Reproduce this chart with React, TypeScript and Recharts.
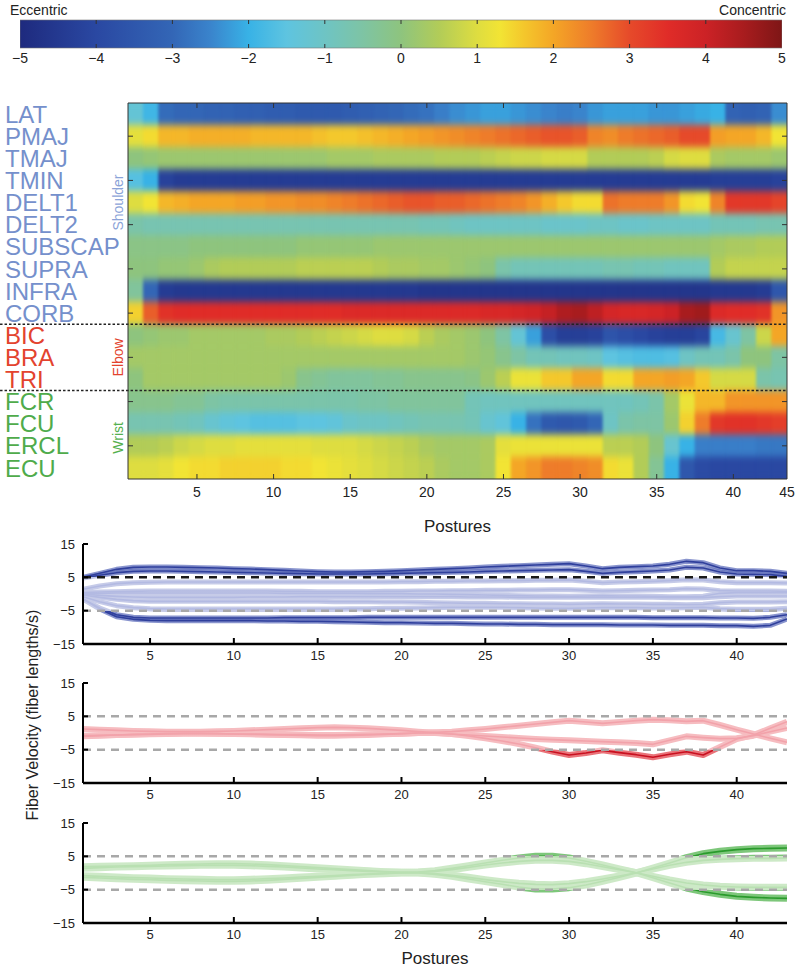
import React from 'react';
import { BarChart, Bar, Cell, XAxis, YAxis, ComposedChart, ReferenceLine, LineChart, Line } from 'recharts';

const FONT = '"Liberation Sans", Arial, Helvetica, sans-serif';

// ---------- categories ----------
const POSTURES = Array.from({ length: 43 }, (_, i) => i + 1);
const MUSCLES = ['LAT', 'PMAJ', 'TMAJ', 'TMIN', 'DELT1', 'DELT2', 'SUBSCAP', 'SUPRA', 'INFRA', 'CORB', 'BIC', 'BRA', 'TRI', 'FCR', 'FCU', 'ERCL', 'ECU'];
const GROUP_OF = [0, 0, 0, 0, 0, 0, 0, 0, 0, 0, 1, 1, 1, 2, 2, 2, 2];
const LABEL_COLORS = ['#7590cc', '#e3432e', '#4fab4b'];
const GROUP_LABELS = [
  { row: 4, text: 'Shoulder', color: '#8ba3d8', shift: 0 },
  { row: 11, text: 'Elbow', color: '#e3432e', shift: 0 },
  { row: 15, text: 'Wrist', color: '#55b04f', shift: 8 },
];
const CB_TICKS = [-5, -4, -3, -2, -1, 0, 1, 2, 3, 4, 5];
const HM_XTICKS = [5, 10, 15, 20, 25, 30, 35, 40, 43.5];
const HM_TOPTICKS = [5, 10, 15, 20, 25, 30, 35, 40];
const HM_ROWTICKS = MUSCLES.map((_, i) => i + 0.5);
const HM_MARKTICKS = [1.5, 3.5, 5.5, 7.5, 9.5, 11.5, 13.5, 15.5];
const VEL_XTICKS = [5, 10, 15, 20, 25, 30, 35, 40];
const VEL_YTICKS = [-15, -5, 5, 15];

// ---------- colormap (value -> colour) ----------
const CMAP: [number, string][] = [
  [-5, '#1e2a7e'], [-4, '#2a48a2'], [-3, '#3366b6'], [-2.5, '#3a84cc'], [-2, '#38b2e6'],
  [-1.5, '#5ec4e0'], [-1, '#6ec4c4'], [-0.5, '#7ec4a4'], [0, '#8ec47e'], [0.5, '#b2cc58'],
  [1, '#dedd40'], [1.3, '#f2e434'], [1.6, '#f4c82c'], [2, '#f4a626'], [2.5, '#ee7c2a'],
  [3, '#e64a2a'], [3.5, '#e02c28'], [4, '#cc2226'], [4.5, '#a81c1e'], [5, '#7e1616'],
];

// ---------- heatmap values (rows x 43 postures) ----------
const HM_LAT = [-1.3, -1.9, -2.9, -3.0, -3.0, -3.1, -3.1, -3.2, -3.2, -3.3, -3.3, -3.4, -3.4, -3.4, -3.3, -3.2, -3.1, -3.0, -2.9, -2.8, -2.6, -2.4, -2.3, -2.2, -2.2, -2.3, -2.4, -2.5, -2.6, -2.5, -2.3, -2.2, -2.2, -2.2, -2.3, -2.3, -2.2, -2.1, -2.0, -3.1, -3.2, -3.1, -2.4];
const HM_PMAJ = [1.1, 1.4, 1.8, 1.8, 1.9, 1.9, 1.9, 1.9, 1.8, 1.8, 1.8, 1.8, 1.7, 1.6, 1.6, 1.7, 1.8, 1.9, 2.0, 2.1, 2.2, 2.3, 2.4, 2.5, 2.6, 2.7, 2.8, 2.9, 2.9, 2.8, 2.4, 2.3, 2.5, 2.6, 2.7, 2.8, 3.0, 3.0, 2.1, 2.0, 2.0, 1.8, 1.3];
const HM_TMAJ = [0.0, 0.1, 0.2, 0.2, 0.2, 0.2, 0.2, 0.2, 0.2, 0.2, 0.2, 0.2, 0.2, 0.3, 0.3, 0.3, 0.4, 0.4, 0.4, 0.4, 0.5, 0.5, 0.5, 0.6, 0.7, 0.8, 0.8, 0.9, 0.9, 0.9, 0.5, 0.5, 0.5, 0.5, 0.6, 0.9, 1.0, 1.0, 0.4, 0.3, 0.3, 0.3, 0.2];
const HM_TMIN = [-1.6, -2.0, -4.2, -4.4, -4.4, -4.4, -4.4, -4.4, -4.4, -4.4, -4.4, -4.4, -4.4, -4.4, -4.4, -4.4, -4.4, -4.4, -4.4, -4.4, -4.4, -4.4, -4.4, -4.4, -4.4, -4.4, -4.4, -4.4, -4.4, -4.4, -4.4, -4.4, -4.4, -4.4, -4.4, -4.4, -4.4, -4.4, -4.3, -4.3, -4.3, -4.3, -4.2];
const HM_DELT1 = [1.0, 1.3, 1.8, 1.9, 2.0, 2.0, 2.0, 2.1, 2.1, 2.2, 2.2, 2.3, 2.3, 2.4, 2.5, 2.6, 2.7, 2.8, 2.9, 2.9, 2.8, 2.8, 2.7, 2.6, 2.5, 2.4, 2.2, 1.9, 1.6, 1.4, 1.4, 2.6, 2.5, 2.5, 2.5, 2.2, 1.4, 1.3, 2.4, 3.3, 3.3, 3.3, 3.1];
const HM_DELT2 = [-0.6, -0.7, -0.7, -0.7, -0.7, -0.7, -0.7, -0.7, -0.7, -0.7, -0.7, -0.7, -0.7, -0.7, -0.7, -0.7, -0.7, -0.7, -0.7, -0.8, -0.8, -0.9, -1.0, -1.0, -1.0, -1.0, -1.0, -1.1, -1.1, -1.1, -1.0, -1.0, -1.1, -1.1, -1.0, -1.0, -1.0, -1.0, -0.8, -0.8, -0.8, -0.7, -0.7];
const HM_SUBSCAP = [-0.1, -0.1, -0.1, -0.1, 0.0, 0.0, 0.0, 0.0, 0.0, 0.0, 0.0, 0.1, 0.1, 0.1, 0.1, 0.1, 0.2, 0.2, 0.2, 0.2, 0.2, 0.2, 0.2, 0.2, 0.2, 0.2, 0.2, 0.2, 0.2, 0.2, 0.2, 0.2, 0.2, 0.2, 0.2, 0.2, 0.2, 0.2, 0.3, 0.4, 0.4, 0.5, 0.5];
const HM_SUPRA = [0.0, 0.0, 0.1, 0.1, 0.2, 0.4, 0.5, 0.5, 0.5, 0.5, 0.5, 0.6, 0.6, 0.6, 0.6, 0.6, 0.5, 0.4, 0.4, 0.3, 0.3, 0.2, 0.1, 0.0, -0.6, -0.8, -0.8, -0.8, -0.8, -0.8, -0.8, -0.7, -0.7, -0.8, -0.8, -0.9, -0.9, -0.9, 0.5, 0.7, 0.7, 0.7, 0.7];
const HM_INFRA = [-0.4, -3.0, -4.4, -4.5, -4.5, -4.5, -4.5, -4.5, -4.5, -4.5, -4.5, -4.5, -4.5, -4.5, -4.5, -4.5, -4.5, -4.5, -4.5, -4.6, -4.6, -4.6, -4.6, -4.6, -4.6, -4.6, -4.6, -4.6, -4.6, -4.6, -4.6, -4.6, -4.6, -4.6, -4.6, -4.6, -4.6, -4.6, -4.5, -4.5, -4.5, -4.4, -3.5];
const HM_CORB = [1.5, 2.8, 3.4, 3.5, 3.5, 3.5, 3.5, 3.5, 3.5, 3.5, 3.5, 3.5, 3.5, 3.5, 3.6, 3.6, 3.6, 3.6, 3.6, 3.6, 3.6, 3.6, 3.6, 3.7, 3.7, 3.8, 3.9, 4.1, 4.4, 4.5, 4.2, 3.8, 3.7, 3.7, 3.8, 4.0, 4.5, 4.6, 3.6, 3.5, 3.5, 3.4, 2.2];
const HM_BIC = [0.0, 0.1, 0.2, 0.2, 0.3, 0.3, 0.3, 0.3, 0.3, 0.4, 0.4, 0.5, 0.6, 0.7, 0.8, 0.9, 1.0, 1.0, 0.9, 0.6, 0.4, 0.3, 0.2, 0.0, -0.5, -1.3, -2.2, -3.8, -4.3, -4.3, -4.2, -3.6, -3.8, -4.0, -4.2, -4.3, -4.3, -4.1, -1.8, -1.2, -0.5, 0.8, 2.0];
const HM_BRA = [0.3, 0.3, 0.3, 0.3, 0.3, 0.3, 0.3, 0.3, 0.3, 0.3, 0.3, 0.3, 0.3, 0.3, 0.3, 0.3, 0.3, 0.3, 0.3, 0.3, 0.3, 0.3, 0.2, 0.1, -0.2, -0.5, -0.8, -0.8, -0.9, -0.9, -1.0, -1.5, -1.6, -1.7, -1.7, -1.6, -1.0, -0.8, -0.8, -0.6, 0.0, 0.0, -0.5];
const HM_TRI = [0.0, 0.3, 0.3, 0.3, 0.3, 0.3, 0.3, 0.3, 0.3, 0.3, 0.2, -0.2, -0.3, -0.4, -0.4, -0.4, -0.3, -0.3, -0.2, -0.2, -0.2, -0.2, -0.1, 0.2, 0.6, 1.2, 1.2, 1.6, 1.6, 2.0, 2.0, 1.4, 1.4, 2.0, 2.0, 2.1, 2.0, 1.6, 0.9, 0.9, 0.9, -0.6, -0.7];
const HM_FCR = [-0.2, -0.2, -0.2, -0.3, -0.3, -0.5, -0.6, -0.6, -0.6, -0.6, -0.6, -0.6, -0.6, -0.6, -0.6, -0.5, -0.5, -0.4, -0.4, -0.4, -0.4, -0.4, -0.8, -0.9, -0.9, -0.9, -0.9, -0.9, -0.9, -0.9, -0.9, -0.9, -0.9, -0.8, -0.6, 0.3, 1.2, 1.8, 1.8, 2.2, 2.2, 2.2, 2.2];
const HM_FCU = [-0.7, -0.7, -0.7, -0.8, -0.9, -1.2, -1.4, -1.5, -1.6, -1.6, -1.6, -1.5, -1.5, -1.4, -1.1, -1.0, -1.0, -0.9, -0.8, -0.7, -0.7, -0.7, -0.8, -1.2, -1.4, -2.0, -2.8, -3.4, -3.5, -3.4, -3.0, -1.0, -0.6, -0.5, -0.5, 0.2, 1.5, 2.5, 3.3, 3.4, 3.4, 3.3, 3.2];
const HM_ERCL = [0.5, 0.5, 0.6, 0.8, 0.9, 1.0, 1.0, 1.1, 1.1, 1.1, 1.1, 1.1, 1.0, 1.0, 1.0, 0.9, 0.8, 0.7, 0.6, 0.4, 0.3, 0.3, 0.3, 0.4, 1.1, 1.2, 1.2, 1.2, 1.2, 1.2, 1.2, 0.6, 0.6, 0.5, 0.0, -1.2, -2.0, -2.6, -2.6, -2.6, -2.6, -2.7, -2.7];
const HM_ECU = [1.0, 1.0, 1.1, 1.3, 1.4, 1.4, 1.5, 1.5, 1.5, 1.5, 1.4, 1.4, 1.3, 1.2, 1.1, 1.0, 0.9, 0.8, 0.7, 0.6, 0.4, 0.3, 0.3, 0.4, 1.3, 2.0, 2.2, 2.5, 2.5, 2.4, 2.3, 1.4, 1.2, 0.5, -0.3, -2.0, -3.5, -3.9, -4.0, -4.0, -4.0, -4.0, -4.0];
const HEAT = [HM_LAT, HM_PMAJ, HM_TMAJ, HM_TMIN, HM_DELT1, HM_DELT2, HM_SUBSCAP, HM_SUPRA, HM_INFRA, HM_CORB, HM_BIC, HM_BRA, HM_TRI, HM_FCR, HM_FCU, HM_ERCL, HM_ECU];

// ---------- fiber velocity (fiber lengths/s), 43 postures ----------
const V_CORB = [5.0, 6.2, 7.4, 8.0, 8.1, 8.1, 8.0, 7.9, 7.8, 7.6, 7.5, 7.3, 7.1, 6.9, 6.7, 6.6, 6.6, 6.7, 6.8, 7.0, 7.2, 7.4, 7.6, 7.8, 8.1, 8.3, 8.5, 8.7, 8.9, 9.1, 8.4, 7.6, 8.0, 8.2, 8.4, 8.9, 9.8, 9.4, 7.8, 7.0, 7.0, 6.8, 6.2];
const V_DELT1 = [4.8, 5.6, 6.4, 6.8, 6.9, 6.9, 6.8, 6.7, 6.6, 6.5, 6.4, 6.3, 6.2, 6.1, 6.0, 6.0, 6.0, 6.0, 6.1, 6.2, 6.3, 6.4, 6.5, 6.6, 6.8, 6.9, 7.0, 7.1, 7.2, 7.3, 6.8, 6.2, 6.5, 6.7, 6.9, 7.2, 8.0, 7.8, 6.6, 6.0, 5.9, 5.8, 5.3];
const V_PMAJ = [1.4, 2.4, 3.1, 3.4, 3.5, 3.6, 3.6, 3.6, 3.6, 3.6, 3.6, 3.6, 3.6, 3.6, 3.6, 3.6, 3.6, 3.6, 3.6, 3.7, 3.7, 3.8, 3.8, 3.9, 3.9, 4.0, 4.0, 4.1, 4.1, 4.2, 3.8, 3.4, 3.6, 3.7, 3.8, 4.0, 4.3, 4.2, 3.7, 3.4, 3.4, 3.4, 3.3];
const V_TMAJ = [0.4, 0.6, 0.7, 0.8, 0.9, 0.9, 0.9, 0.9, 0.9, 0.9, 0.9, 0.9, 0.8, 0.8, 0.7, 0.7, 0.7, 0.7, 0.8, 0.8, 0.9, 0.9, 1.0, 1.0, 1.1, 1.1, 1.2, 1.2, 1.3, 1.3, 1.1, 0.9, 1.0, 1.1, 1.2, 1.3, 1.6, 1.5, 1.0, 0.9, 0.9, 0.9, 0.8];
const V_SUPRA = [0.2, 0.2, 0.3, 0.3, 0.3, 0.3, 0.3, 0.3, 0.3, 0.3, 0.3, 0.3, 0.2, 0.2, 0.2, 0.2, 0.2, 0.1, 0.1, 0.1, 0.0, 0.0, -0.1, -0.2, -0.3, -0.4, -0.5, -0.6, -0.6, -0.7, -0.6, -0.5, -0.6, -0.6, -0.7, -0.8, -0.8, -0.7, 0.2, 0.4, 0.4, 0.4, 0.4];
const V_SUBSCAP = [0.0, -0.4, -0.7, -0.9, -1.0, -1.0, -1.0, -1.0, -1.0, -1.0, -0.9, -0.9, -0.9, -0.8, -0.8, -0.8, -0.8, -0.8, -0.8, -0.8, -0.8, -0.8, -0.8, -0.9, -0.9, -0.9, -1.0, -1.0, -1.0, -1.0, -1.0, -1.0, -1.0, -1.0, -1.0, -1.1, -1.1, -1.1, -0.8, -0.6, -0.6, -0.6, -0.6];
const V_DELT2 = [-0.3, -1.0, -1.6, -2.0, -2.2, -2.2, -2.2, -2.2, -2.2, -2.2, -2.2, -2.2, -2.2, -2.2, -2.2, -2.3, -2.3, -2.3, -2.4, -2.4, -2.5, -2.6, -2.7, -2.8, -2.8, -2.9, -2.9, -3.0, -3.0, -3.1, -3.0, -2.9, -3.0, -3.0, -3.1, -3.1, -3.2, -3.1, -2.6, -2.4, -2.4, -2.4, -2.3];
const V_LAT = [-0.8, -2.3, -3.5, -4.1, -4.4, -4.5, -4.5, -4.5, -4.5, -4.5, -4.5, -4.5, -4.5, -4.5, -4.5, -4.5, -4.4, -4.4, -4.3, -4.3, -4.2, -4.1, -4.0, -4.0, -4.0, -4.0, -4.1, -4.2, -4.3, -4.3, -4.2, -4.1, -4.1, -4.1, -4.2, -4.2, -4.1, -4.0, -4.4, -4.6, -4.6, -4.6, -4.3];
const V_TMIN = [-1.5, -4.2, -6.2, -7.0, -7.2, -7.2, -7.2, -7.2, -7.2, -7.2, -7.2, -7.2, -7.1, -7.1, -7.1, -7.1, -7.1, -7.0, -7.0, -7.0, -7.0, -7.0, -7.0, -7.0, -7.0, -7.0, -7.0, -7.0, -7.0, -7.0, -7.0, -7.0, -7.0, -7.0, -7.1, -7.1, -7.1, -7.1, -7.2, -7.2, -7.3, -7.0, -6.2];
const V_INFRA = [-1.5, -4.5, -6.8, -7.6, -7.9, -8.0, -8.0, -8.0, -8.0, -8.0, -8.0, -8.1, -8.1, -8.2, -8.2, -8.3, -8.4, -8.5, -8.6, -8.6, -8.7, -8.8, -8.8, -8.9, -9.0, -9.0, -9.1, -9.1, -9.2, -9.2, -9.2, -9.2, -9.3, -9.3, -9.3, -9.4, -9.4, -9.4, -9.5, -9.5, -9.7, -9.4, -7.5];

const V_BIC = [-0.8, -0.7, -0.6, -0.5, -0.4, -0.3, -0.2, -0.2, -0.2, -0.3, -0.3, -0.4, -0.5, -0.5, -0.6, -0.6, -0.5, -0.4, -0.3, -0.2, 0.0, 0.0, -0.3, -0.9, -1.6, -2.4, -3.3, -4.4, -5.6, -6.6, -6.0, -5.2, -5.9, -6.5, -7.3, -6.4, -5.6, -6.6, -4.2, -1.8, -0.6, 1.4, 3.4];
const V_BRA = [1.2, 1.0, 0.8, 0.6, 0.5, 0.4, 0.4, 0.4, 0.5, 0.6, 0.8, 1.0, 1.2, 1.4, 1.6, 1.7, 1.6, 1.4, 1.1, 0.8, 0.4, 0.1, -0.3, -0.6, -0.9, -1.2, -1.5, -1.8, -2.0, -2.2, -2.4, -2.6, -2.8, -3.0, -3.4, -2.2, -1.0, -1.4, -1.7, -1.6, -0.8, 0.4, 1.5];
const V_TRI = [-1.0, -0.8, -0.6, -0.4, -0.3, -0.2, -0.1, -0.1, -0.2, -0.3, -0.4, -0.5, -0.6, -0.7, -0.8, -0.8, -0.7, -0.6, -0.4, -0.2, 0.0, 0.2, 0.4, 0.8, 1.2, 1.7, 2.2, 2.7, 3.2, 3.7, 3.3, 2.9, 3.3, 3.7, 4.0, 3.8, 3.5, 3.7, 2.4, 1.0, -0.3, -1.6, -2.8];

const V_ECU = [1.9, 2.0, 2.1, 2.2, 2.3, 2.5, 2.6, 2.7, 2.8, 2.8, 2.7, 2.5, 2.2, 1.9, 1.6, 1.3, 1.0, 0.7, 0.4, 0.2, 0.3, 0.7, 1.4, 2.2, 3.0, 3.8, 4.5, 5.0, 5.0, 4.5, 3.5, 2.4, 1.2, 0.1, -1.4, -3.0, -4.5, -5.6, -6.4, -7.0, -7.3, -7.5, -7.6];
const V_ERCL = [1.4, 1.6, 1.8, 1.9, 2.0, 2.1, 2.2, 2.3, 2.3, 2.3, 2.2, 2.0, 1.8, 1.5, 1.2, 1.0, 0.7, 0.5, 0.3, 0.2, 0.2, 0.5, 1.0, 1.7, 2.4, 3.0, 3.5, 3.8, 3.8, 3.5, 2.8, 1.9, 1.0, 0.1, -1.0, -2.1, -3.0, -3.6, -4.0, -4.2, -4.3, -4.3, -4.3];
const V_FCU = [-1.3, -1.5, -1.7, -1.9, -2.0, -2.2, -2.3, -2.4, -2.5, -2.5, -2.4, -2.2, -1.9, -1.6, -1.3, -1.0, -0.7, -0.4, -0.2, 0.0, 0.0, -0.4, -1.0, -1.8, -2.6, -3.4, -4.2, -4.8, -4.8, -4.4, -3.6, -2.5, -1.3, 0.0, 1.5, 3.0, 4.6, 5.8, 6.5, 7.0, 7.3, 7.4, 7.5];
const V_FCR = [-0.8, -1.0, -1.2, -1.4, -1.5, -1.7, -1.8, -1.9, -2.0, -2.0, -1.9, -1.7, -1.5, -1.2, -1.0, -0.8, -0.5, -0.3, -0.1, 0.1, 0.1, -0.2, -0.7, -1.3, -2.0, -2.6, -3.1, -3.4, -3.5, -3.2, -2.6, -1.8, -0.9, 0.1, 1.2, 2.3, 3.2, 3.8, 4.1, 4.3, 4.4, 4.4, 4.5];

const SH_SERIES: Record<string, number[]> = { CORB: V_CORB, DELT1: V_DELT1, PMAJ: V_PMAJ, TMAJ: V_TMAJ, SUPRA: V_SUPRA, SUBSCAP: V_SUBSCAP, DELT2: V_DELT2, LAT: V_LAT, TMIN: V_TMIN, INFRA: V_INFRA };
const EL_SERIES: Record<string, number[]> = { TRI: V_TRI, BRA: V_BRA, BIC: V_BIC };
const WR_SERIES: Record<string, number[]> = { ERCL: V_ERCL, ECU: V_ECU, FCR: V_FCR, FCU: V_FCU };

// ---------- helpers ----------
const hex = (c: string) => [parseInt(c.slice(1, 3), 16), parseInt(c.slice(3, 5), 16), parseInt(c.slice(5, 7), 16)];
function colorOf(v: number) {
  const x = Math.max(-5, Math.min(5, v));
  for (let i = 0; i < CMAP.length - 1; i++) {
    const [a, ca] = CMAP[i];
    const [b, cb] = CMAP[i + 1];
    if (x >= a && x <= b) {
      const t = (x - a) / (b - a);
      const A = hex(ca), B = hex(cb);
      const m = A.map((q, k) => Math.round(q + (B[k] - q) * t));
      return `rgb(${m[0]},${m[1]},${m[2]})`;
    }
  }
  return CMAP[CMAP.length - 1][1];
}
const fmt = (v: number) => (v < 0 ? '\u2212' + Math.abs(v) : String(v));

const HM_TABLE = POSTURES.map((p) => {
  const row: Record<string, number> = { posture: p };
  MUSCLES.forEach((m) => { row[m] = 1; });
  return row;
});
const makeTable = (series: Record<string, number[]>) =>
  POSTURES.map((p, i) => {
    const row: Record<string, number> = { posture: p };
    Object.keys(series).forEach((k) => { row[k] = series[k][i]; });
    return row;
  });
const SH_TABLE = makeTable(SH_SERIES);
const EL_TABLE = makeTable(EL_SERIES);
const WR_TABLE = makeTable(WR_SERIES);

// ---------- generic inward tick renderer (axis drawn with tickSize 0, tickMargin 0) ----------
type TickOpt = {
  side: 'bottom' | 'top' | 'left' | 'right';
  len: number;
  gap?: number;
  fontSize?: number;
  label?: (v: number) => string | null;
  mark?: (v: number) => boolean;
  stroke?: string;
  sw?: number;
};
const makeTick = (o: TickOpt) => (props: any) => {
  const { x, y, payload } = props;
  const v = payload.value as number;
  const st = o.stroke ?? '#222';
  const sw = o.sw ?? 1;
  const showMark = o.mark ? o.mark(v) : true;
  const lab = o.label ? o.label(v) : null;
  const gap = o.gap ?? 6;
  const fs = o.fontSize ?? 13;
  let line: React.ReactNode = null;
  let text: React.ReactNode = null;
  if (o.side === 'bottom') {
    if (showMark) line = <line x1={x} y1={y} x2={x} y2={y - o.len} stroke={st} strokeWidth={sw} />;
    if (lab !== null) text = <text x={x} y={y + gap} dy="0.71em" textAnchor="middle" fontSize={fs} fill="#222" fontFamily={FONT}>{lab}</text>;
  } else if (o.side === 'top') {
    if (showMark) line = <line x1={x} y1={y} x2={x} y2={y + o.len} stroke={st} strokeWidth={sw} />;
  } else if (o.side === 'left') {
    if (showMark) line = <line x1={x} y1={y} x2={x + o.len} y2={y} stroke={st} strokeWidth={sw} />;
    if (lab !== null) text = <text x={x - gap} y={y} dy="0.35em" textAnchor="end" fontSize={fs} fill="#222" fontFamily={FONT}>{lab}</text>;
  } else {
    if (showMark) line = <line x1={x} y1={y} x2={x - o.len} y2={y} stroke={st} strokeWidth={sw} />;
  }
  return <g>{line}{text}</g>;
};

// ---------- heatmap row label tick ----------
const RowTick = (props: any) => {
  const { x, y, payload } = props;
  const idx = Math.round(payload.value - 0.5);
  const g = GROUP_OF[idx];
  const gl = GROUP_LABELS.find((q) => q.row === idx);
  return (
    <g>
      <text x={5} y={y} dy="0.36em" fontSize={24} fill={LABEL_COLORS[g]} fontFamily={FONT}>{MUSCLES[idx]}</text>
      {idx % 2 === 1 && <line x1={x} y1={y} x2={x + 5} y2={y} stroke="#333" strokeWidth={1} />}
      {gl && (
        <text x={118} y={y} transform={`rotate(-90 118 ${y})`} textAnchor="middle" dy="0.35em" dx={gl.shift} fontSize={14} fill={gl.color} fontFamily={FONT}>
          {gl.text}
        </text>
      )}
    </g>
  );
};

// ---------- velocity chart ----------
const VEL_MT = 14;
const VEL_PH = 100;
const T_HI = (15 - 5) / 30;
const T_LO = (15 + 5) / 30;

type Pal = { darkBand: string; lightBand: string; darkCore: string; lightCore: string };

function zoneGradient(id: string, dark: string, light: string, darkOp: number) {
  return (
    <linearGradient id={id} gradientUnits="userSpaceOnUse" x1={0} x2={0} y1={VEL_MT} y2={VEL_MT + VEL_PH}>
      <stop offset={0} stopColor={dark} stopOpacity={darkOp} />
      <stop offset={T_HI} stopColor={dark} stopOpacity={darkOp} />
      <stop offset={T_HI} stopColor={light} stopOpacity={1} />
      <stop offset={T_LO} stopColor={light} stopOpacity={1} />
      <stop offset={T_LO} stopColor={dark} stopOpacity={darkOp} />
      <stop offset={1} stopColor={dark} stopOpacity={darkOp} />
    </linearGradient>
  );
}

const velXTick = makeTick({ side: 'bottom', len: 6, gap: 7, fontSize: 13, sw: 2, stroke: '#000', label: (v) => String(v) });
const velYTick = makeTick({ side: 'left', len: 5, gap: 8, fontSize: 13, sw: 2, stroke: '#000', label: (v) => fmt(v) });

function VelChart(p: { top: number; table: any[]; keys: string[]; id: string; pal: Pal; refHi: string; refLo: string; bandW: number; xLabel?: boolean }) {
  const xh = p.xLabel ? 46 : 30;
  return (
    <div style={{ position: 'absolute', left: 0, top: p.top }}>
      <LineChart width={800} height={VEL_MT + VEL_PH + xh} data={p.table} margin={{ top: VEL_MT, right: 13, bottom: 0, left: 0 }}>
        <defs>
          {zoneGradient(p.id + 'b', p.pal.darkBand, p.pal.lightBand, 0.75)}
          {zoneGradient(p.id + 'c', p.pal.darkCore, p.pal.lightCore, 1)}
        </defs>
        {p.keys.map((k) => (
          <Line key={'b' + k} dataKey={k} type="linear" stroke={`url(#${p.id}b)`} strokeWidth={p.bandW} dot={false} activeDot={false} isAnimationActive={false} strokeLinejoin="round" />
        ))}
        {p.keys.map((k) => (
          <Line key={'c' + k} dataKey={k} type="linear" stroke={`url(#${p.id}c)`} strokeWidth={1.6} dot={false} activeDot={false} isAnimationActive={false} strokeLinejoin="round" />
        ))}
        <ReferenceLine y={5} stroke={p.refHi} strokeDasharray="8 6" strokeWidth={2.5} />
        <ReferenceLine y={-5} stroke={p.refLo} strokeDasharray="8 6" strokeWidth={2.5} />
        <XAxis
          dataKey="posture" type="number" domain={[1, 43]} ticks={VEL_XTICKS} interval={0}
          tickSize={0} tickMargin={0} height={xh} allowDataOverflow
          axisLine={{ stroke: '#000', strokeWidth: 2.5 }} tickLine={false} tick={velXTick}
          label={p.xLabel ? { value: 'Postures', position: 'insideBottom', offset: 5, fontSize: 17, fill: '#222' } : undefined}
        />
        <YAxis
          type="number" domain={[-15, 15]} ticks={VEL_YTICKS} interval={0} tickSize={0} tickMargin={0} width={83} allowDataOverflow
          axisLine={{ stroke: '#000', strokeWidth: 2 }} tickLine={false} tick={velYTick}
        />
      </LineChart>
    </div>
  );
}

const cbBottomTick = makeTick({ side: 'bottom', len: 4, gap: 5, fontSize: 14, stroke: '#333', label: (v) => fmt(v), mark: (v) => Math.abs(v) < 5 });
const cbTopTick = makeTick({ side: 'top', len: 4, stroke: '#333', mark: (v) => Math.abs(v) < 5 });
const hmBottomTick = makeTick({ side: 'bottom', len: 5, gap: 8, fontSize: 14, stroke: '#333', label: (v) => (v === 43.5 ? '45' : String(v)), mark: (v) => v < 43 });
const hmTopTick = makeTick({ side: 'top', len: 5, stroke: '#333' });
const hmRightTick = makeTick({ side: 'right', len: 5, stroke: '#333' });

export default function App() {
  return (
    <div style={{ position: 'absolute', left: 0, top: 0, width: 800, height: 970, background: '#fff', fontFamily: FONT, overflow: 'hidden' }}>
      <svg width={0} height={0} style={{ position: 'absolute' }}>
        <defs>
          <filter id="hmblur" x="0" y="0" width="1" height="1" colorInterpolationFilters="sRGB">
            <feGaussianBlur stdDeviation="1.6 3.8" edgeMode="duplicate" />
            <feComponentTransfer>
              <feFuncA type="linear" slope={0} intercept={1} />
            </feComponentTransfer>
          </filter>
        </defs>
      </svg>

      {/* colour bar */}
      <div style={{ position: 'absolute', left: 10, top: 2, fontSize: 14, color: '#222' }}>Eccentric</div>
      <div style={{ position: 'absolute', right: 14, top: 2, fontSize: 14, color: '#222' }}>Concentric</div>
      <div style={{ position: 'absolute', left: 0, top: 0 }}>
        <BarChart width={800} height={74} data={[{ name: 'cb', range: [-5, 5] }]} layout="vertical" margin={{ top: 19, right: 18, bottom: 0, left: 20 }} barCategoryGap={0}>
          <defs>
            <linearGradient id="cbgrad" x1="0" y1="0" x2="1" y2="0">
              {CMAP.map(([v, c]) => (
                <stop key={v} offset={(v + 5) / 10} stopColor={c} />
              ))}
            </linearGradient>
          </defs>
          <Bar dataKey="range" fill="url(#cbgrad)" stroke="#777" strokeWidth={0.6} isAnimationActive={false} />
          <YAxis type="category" dataKey="name" hide />
          <XAxis type="number" domain={[-5, 5]} ticks={CB_TICKS} interval={0} tickSize={0} tickMargin={0} height={26} allowDataOverflow
            axisLine={false} tickLine={false} tick={cbBottomTick} />
          <XAxis xAxisId="top" orientation="top" type="number" domain={[-5, 5]} ticks={CB_TICKS} interval={0} tickSize={0} tickMargin={0}
            height={1} allowDataOverflow axisLine={false} tickLine={false} tick={cbTopTick} />
        </BarChart>
      </div>

      {/* heatmap cells */}
      <div style={{ position: 'absolute', left: 128, top: 103, width: 659, height: 376, filter: 'url(#hmblur)' }}>
        <BarChart width={659} height={376} data={HM_TABLE} margin={{ top: 0, right: 0, bottom: 0, left: 0 }} barCategoryGap={0} barGap={0}>
          <XAxis dataKey="posture" type="category" hide />
          <YAxis type="number" domain={[0, 17]} reversed hide allowDataOverflow />
          {MUSCLES.map((m, i) => (
            <Bar key={m} dataKey={m} stackId="s" isAnimationActive={false}>
              {POSTURES.map((p, j) => (
                <Cell key={p} fill={colorOf(HEAT[i][j])} stroke={colorOf(HEAT[i][j])} strokeWidth={0.6} />
              ))}
            </Bar>
          ))}
        </BarChart>
      </div>

      {/* heatmap frame, labels, separators */}
      <div style={{ position: 'absolute', left: 0, top: 90 }}>
        <ComposedChart width={800} height={450} data={HM_TABLE} margin={{ top: 12, right: 12, bottom: 0, left: 0 }}>
          <Line xAxisId="b" yAxisId="l" dataKey="LAT" stroke="none" dot={false} activeDot={false} isAnimationActive={false} />
          <Line xAxisId="t" yAxisId="r" dataKey="LAT" stroke="none" dot={false} activeDot={false} isAnimationActive={false} />
          <XAxis xAxisId="b" dataKey="posture" type="number" domain={[0.5, 43.5]} ticks={HM_XTICKS} interval={0}
            tickSize={0} tickMargin={0} height={61} allowDataOverflow
            axisLine={{ stroke: '#333' }} tickLine={false} tick={hmBottomTick}
            label={{ value: 'Postures', position: 'insideBottom', offset: 8, fontSize: 17, fill: '#222' }} />
          <XAxis xAxisId="t" orientation="top" dataKey="posture" type="number" domain={[0.5, 43.5]} ticks={HM_TOPTICKS} interval={0}
            tickSize={0} tickMargin={0} height={1} allowDataOverflow axisLine={{ stroke: '#333' }} tickLine={false} tick={hmTopTick} />
          <YAxis yAxisId="l" type="number" domain={[0, 17]} reversed ticks={HM_ROWTICKS} interval={0} width={128} allowDataOverflow
            tickSize={0} tickMargin={0} tickLine={false} axisLine={{ stroke: '#333' }} tick={(props: any) => <RowTick {...props} />} />
          <YAxis yAxisId="r" orientation="right" type="number" domain={[0, 17]} reversed ticks={HM_MARKTICKS} interval={0} width={1} allowDataOverflow
            tickSize={0} tickMargin={0} tickLine={false} axisLine={{ stroke: '#333' }} tick={hmRightTick} />
          <ReferenceLine xAxisId="b" yAxisId="l" segment={[{ x: -7.85, y: 10 }, { x: 43.5, y: 10 }]} ifOverflow="visible"
            stroke="#222" strokeDasharray="2.5 2" strokeWidth={1.4} />
          <ReferenceLine xAxisId="b" yAxisId="l" segment={[{ x: -7.85, y: 13 }, { x: 43.5, y: 13 }]} ifOverflow="visible"
            stroke="#222" strokeDasharray="2.5 2" strokeWidth={1.4} />
        </ComposedChart>
      </div>

      {/* fiber velocity charts */}
      <VelChart top={530} table={SH_TABLE} keys={Object.keys(SH_SERIES)} id="sh" bandW={5}
        pal={{ darkBand: '#6271bd', lightBand: '#c6cbe8', darkCore: '#2f3f9c', lightCore: '#b3bae2' }} refHi="#1a1a1a" refLo="#a8a8a8" />
      <VelChart top={669} table={EL_TABLE} keys={Object.keys(EL_SERIES)} id="el" bandW={6}
        pal={{ darkBand: '#e2444c', lightBand: '#f6bcc0', darkCore: '#c81020', lightCore: '#f2a2aa' }} refHi="#a8a8a8" refLo="#a8a8a8" />
      <VelChart top={809} table={WR_TABLE} keys={Object.keys(WR_SERIES)} id="wr" bandW={7} xLabel
        pal={{ darkBand: '#52b44e', lightBand: '#cde9c7', darkCore: '#2a9a2c', lightCore: '#b9e0b2' }} refHi="#a8a8a8" refLo="#a8a8a8" />

      <svg width={60} height={970} style={{ position: 'absolute', left: 0, top: 0, pointerEvents: 'none' }}>
        <text x={32} y={715} transform="rotate(-90 32 715)" textAnchor="middle" dy="0.35em" fontSize={16} fill="#222" fontFamily={FONT}>
          Fiber Velocity (fiber lengths/s)
        </text>
      </svg>
    </div>
  );
}
